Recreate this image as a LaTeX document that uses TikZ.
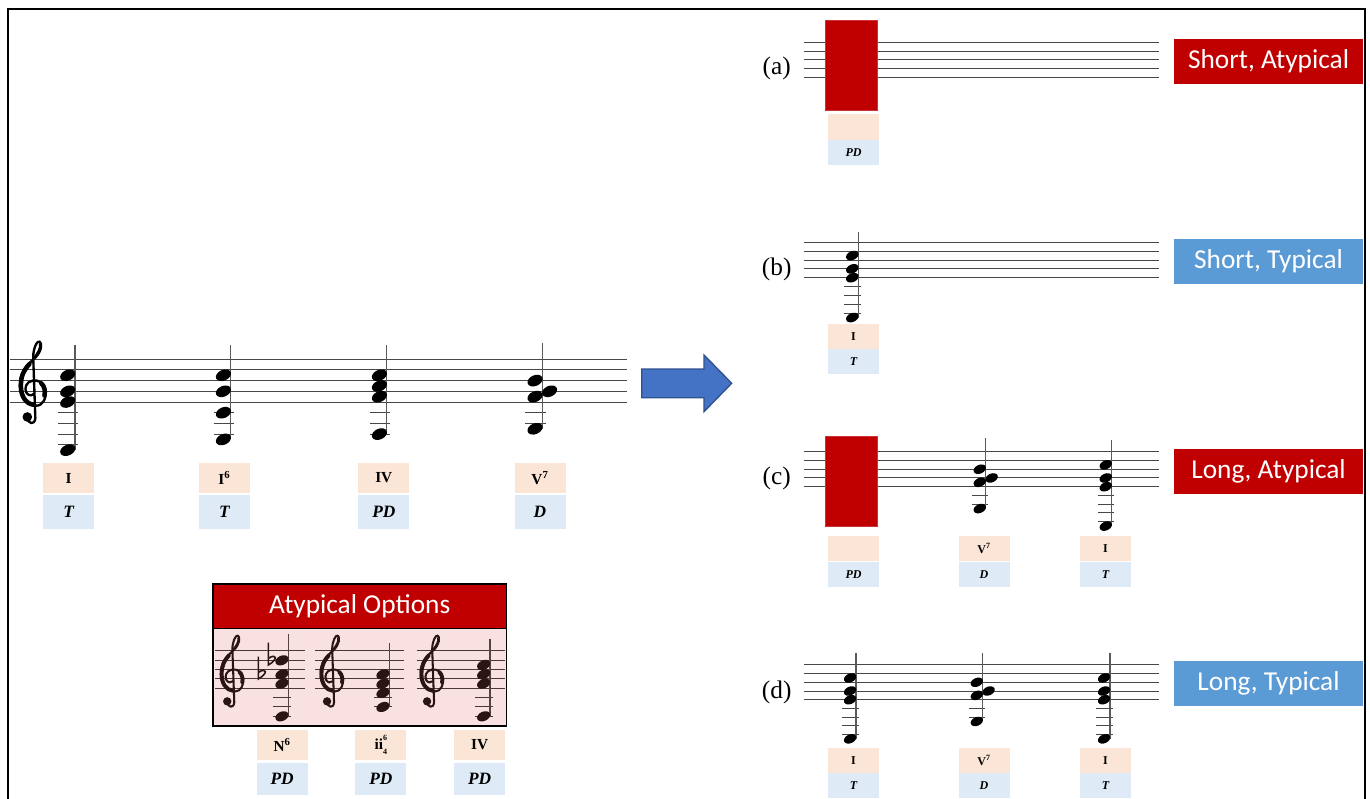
\documentclass[tikz,border=0pt]{standalone}
\usepackage{fontspec}
\setmainfont{Liberation Serif}
\newfontfamily\calfont{Carlito}

\definecolor{peach}{HTML}{FBE5D6}
\definecolor{paleblue}{HTML}{DEEBF7}
\definecolor{darkred}{HTML}{C00000}
\definecolor{tagblue}{HTML}{5B9BD5}
\definecolor{arrowblue}{HTML}{4472C4}
\definecolor{arrowedge}{HTML}{2F528F}
\definecolor{pinkpanel}{HTML}{FAE1E1}
\definecolor{inkbrown}{HTML}{2A1414}

% five staff lines: x1, x2, y of bottom line, line spacing
\newcommand\staff[4]{%
  \foreach \k in {0,...,4} \draw[staffline] (#1,{#3-\k*#4}) -- (#2,{#3-\k*#4});}

% chord: stem x, bottom-line y, spacing, stem top y, notes p/side, ledger positions, lowest p
\newcommand\chord[7]{%
  \foreach \lp in {#6} \draw[ledger] ({#1-1.6*#3},{#2-\lp*#3/2}) -- ({#1+0.3*#3},{#2-\lp*#3/2});
  \draw[stemline] (#1,#4) -- (#1,{#2-(#7)*#3/2});
  \foreach \p/\o in {#5} \fill[notehead] ({#1+(2*\o-1)*0.68*#3},{#2-\p*#3/2})
      ellipse [x radius={0.74*#3*0.75pt}, y radius={0.5*#3*0.75pt}, rotate=24];}

% treble clef: centre x, bottom-line y, spacing, colour
\newcommand\gclef[4]{%
  \pgfmathsetmacro\clefu{#3*0.75}%
  \pgfmathsetmacro\clefw{0.22*#3*0.75}%
  \pgfmathsetmacro\clefb{0.42*#3*0.75}%
  \begin{scope}[shift={(#1,#2)}, x=\clefu pt, y=\clefu pt]
    \fill[#4] (-0.4,-1.4) circle (0.45);
    \draw[#4, line width=\clefw pt, line cap=round, line join=round]
      (-0.4,-1.4) .. controls (-0.35,-2.1) and (0.3,-2.2) .. (0.35,-1.5)
      -- (0.15,4.2) .. controls (0.15,5.0) and (0.5,5.75) .. (0.75,5.65)
      .. controls (1.0,5.5) and (0.95,4.7) .. (0.3,4.1)
      .. controls (-0.5,3.4) and (-1.1,2.8) .. (-1.1,1.5)
      .. controls (-1.1,0.3) and (-0.3,-0.35) .. (0.4,-0.35)
      .. controls (1.1,-0.35) and (1.4,0.4) .. (1.3,1.1)
      .. controls (1.2,1.8) and (0.6,2.1) .. (0.1,2.0)
      .. controls (-0.5,1.9) and (-0.7,1.3) .. (-0.5,0.9)
      .. controls (-0.35,0.6) and (0,0.55) .. (0.2,0.75);
    % heavier strokes on the bowl and the upper diagonal
    \draw[#4, line width=\clefb pt, line cap=round]
      (-0.2,3.55) .. controls (-0.7,3.0) and (-1.0,2.5) .. (-1.0,1.5)
      .. controls (-1.0,0.5) and (-0.5,-0.2) .. (0.2,-0.25);
    \draw[#4, line width=\clefb pt, line cap=round]
      (1.2,0.6) .. controls (1.3,1.0) and (1.2,1.5) .. (0.9,1.75);
    \draw[#4, line width=\clefw pt, line cap=round]
      (0.3,4.2) .. controls (0.6,4.6) and (0.85,5.0) .. (0.8,5.4);
  \end{scope}}

% flat sign: x, y of the note it alters, spacing
\newcommand\flatsign[3]{%
  \draw[flatline] (#1,{#2-1.9*#3}) -- (#1,{#2+0.5*#3})
    .. controls ({#1+1.1*#3},{#2-0.1*#3}) and ({#1+0.9*#3},{#2-0.8*#3}) .. (#1,{#2-0.2*#3});}

\begin{document}
\begin{tikzpicture}[x=0.75pt,y=-0.75pt,
  staffline/.style={draw=black!72, line width=0.75pt},
  ledger/.style={draw=black!72, line width=0.75pt},
  stemline/.style={draw=black!65, line width=0.9pt},
  notehead/.style={fill=black},
  flatline/.style={draw=inkbrown, line width=1.2pt},
  rbox/.style={fill=peach, minimum width=38.25pt, inner sep=0pt,
    font=\bfseries\fontsize{11.5}{12}\selectfont},
  fbox/.style={fill=paleblue, minimum width=38.25pt, inner sep=0pt,
    font=\bfseries\itshape\fontsize{13}{14}\selectfont},
  rsmall/.style={fill=peach, minimum width=38.25pt, minimum height=19pt, inner sep=0pt,
    font=\bfseries\fontsize{9}{10}\selectfont},
  fsmall/.style={fill=paleblue, minimum width=38.25pt, minimum height=18.75pt, inner sep=0pt,
    font=\bfseries\itshape\fontsize{9}{10}\selectfont},
  tag/.style={minimum width=141.3pt, minimum height=33.75pt, inner sep=0pt, text=white,
    font=\calfont\fontsize{20.5}{22}\selectfont},
  rowlabel/.style={inner sep=0pt, font=\fontsize{19}{20}\selectfont},
  redblock/.style={fill=darkred, draw=darkred!80!white, line width=0.5pt},
  bigarrow/.style={fill=arrowblue, draw=arrowedge, line width=1pt, line join=miter}]

\useasboundingbox (0,0) rectangle (1370,799);

% outer frame, open at the bottom
\draw[line width=1.5pt] (8,799) -- (8,9) -- (1365,9) -- (1365,799);

% ---------- main staff ----------
\staff{10}{627}{402}{10.7}
\gclef{31.6}{402}{10.7}{black}
\chord{75}{402}{10.7}{345}{5/0,2/0,0/0,-9/0}{-2,-4,-6,-8}{-9}
\chord{230.7}{402}{10.7}{345}{5/0,2/0,-2/0,-7/0}{-2,-4,-6}{-7}
\chord{386.7}{402}{10.7}{345}{5/0,3/0,1/0,-6/0}{-2,-4,-6}{-6}
\chord{542.3}{402}{10.7}{343}{4/0,2/1,1/0,-5/0}{-2,-4}{-5}

\node[rbox, minimum height=22pt] (r1) at (68.7,478) {I};
\node[fbox, minimum height=25.5pt] (f1) at (68.7,512.3) {T};
\node[rbox, minimum height=22pt] (r2) at (224.3,478) {I\textsuperscript{6}};
\node[fbox, minimum height=25.5pt] (f2) at (224.3,512.3) {T};
\node[rbox, minimum height=22pt] (r3) at (383.8,478) {IV};
\node[fbox, minimum height=25.5pt] (f3) at (383.8,512.3) {PD};
\node[rbox, minimum height=22pt] (r4) at (540,478) {V\textsuperscript{7}};
\node[fbox, minimum height=25.5pt] (f4) at (540,512.3) {D};

% ---------- arrow ----------
\draw[bigarrow] (641.7,369) -- (704,369) -- (704,355) -- (731.7,383.3)
  -- (704,411.7) -- (704,397.7) -- (641.7,397.7) -- cycle;

% ---------- atypical options panel ----------
\node[fill=pinkpanel, minimum width=219.5pt, minimum height=73pt, inner sep=0pt] (optbody) at (359.7,677) {};
\begin{scope}[staffline/.style={draw=inkbrown!85, line width=0.75pt},
  ledger/.style={draw=inkbrown!85, line width=0.75pt},
  stemline/.style={draw=inkbrown!80, line width=0.9pt},
  notehead/.style={fill=inkbrown}]
  \staff{215}{305}{688.3}{9.33}
  \staff{315}{404}{688.3}{9.33}
  \staff{416.7}{505}{688.3}{9.33}
  \gclef{231}{688.3}{9.33}{inkbrown}
  \gclef{330.8}{688.3}{9.33}{inkbrown}
  \gclef{430.8}{688.3}{9.33}{inkbrown}
  \flatsign{258.3}{674.3}{9.33}
  \flatsign{268.3}{660.3}{9.33}
  \chord{288.3}{688.3}{9.33}{634.3}{6/0,3/0,1/0,-6/0}{-2,-4,-6}{-6}
  \chord{389.3}{688.3}{9.33}{643.3}{3/0,1/0,-1/0,-4/0}{-2,-4}{-4}
  \chord{490}{688.3}{9.33}{639}{5/0,3/0,1/0,-6/0}{-2,-4,-6}{-6}
\end{scope}
\node[fill=darkred, minimum width=219.5pt, minimum height=33.2pt, inner sep=0pt, text=white,
  font=\calfont\fontsize{20.5}{22}\selectfont] (opttitle) at (359.7,606.2) {Atypical Options};
\draw[line width=1.2pt] (opttitle.north west) rectangle (optbody.south east);
\draw[line width=1.2pt] (opttitle.south west) -- (opttitle.south east);

\node[rbox, minimum height=22.5pt] (nr1) at (282.2,745) {N\textsuperscript{6}};
\node[fbox, minimum height=24pt] (nf1) at (282.2,779) {PD};
\node[rbox, minimum height=22.5pt] (nr2) at (380.9,745)
  {ii\makebox[0pt][l]{\raisebox{1.3ex}{\fontsize{6}{6}\selectfont 6}}\raisebox{-0.7ex}{\fontsize{6}{6}\selectfont 4}};
\node[fbox, minimum height=24pt] (nf2) at (380.9,779) {PD};
\node[rbox, minimum height=22.5pt] (nr3) at (479.7,745) {IV};
\node[fbox, minimum height=24pt] (nf3) at (479.7,779) {PD};

% ---------- (a) ----------
\node[rowlabel] (la) at (776.7,68) {(a)};
\staff{804}{1159}{77.3}{8.75}
\fill[redblock] (825.3,20) rectangle (877.3,110.7);
\node[rsmall] (ar1) at (853.5,127) {};
\node[fsmall] (af1) at (853.5,152.5) {PD};
\node[tag, fill=darkred] (ta) at (1268.5,61.7) {Short, Atypical};

% ---------- (b) ----------
\node[rowlabel] (lb) at (776.7,269) {(b)};
\staff{804}{1159}{277.7}{8.85}
\chord{858.3}{277.7}{8.85}{231.7}{5/0,2/0,0/0,-9/0}{-2,-4,-6,-8}{-9}
\node[rsmall] (br1) at (853.5,336.8) {I};
\node[fsmall] (bf1) at (853.5,361.7) {T};
\node[tag, fill=tagblue] (tb) at (1268.5,261.2) {Short, Typical};

% ---------- (c) ----------
\node[rowlabel] (lc) at (776.7,478) {(c)};
\staff{804}{1159}{486.7}{8.75}
\fill[redblock] (825.3,436) rectangle (877.3,526);
\chord{985.7}{486.7}{8.75}{438.3}{4/0,2/1,1/0,-5/0}{-2,-4}{-5}
\chord{1111.7}{486.7}{8.75}{440}{5/0,2/0,0/0,-9/0}{-2,-4,-6,-8}{-9}
\node[rsmall] (cr1) at (853.5,548.8) {};
\node[fsmall] (cf1) at (853.5,574.2) {PD};
\node[rsmall] (cr2) at (984,548.8) {V\textsuperscript{7}};
\node[fsmall] (cf2) at (984,574.2) {D};
\node[rsmall] (cr3) at (1105.5,548.8) {I};
\node[fsmall] (cf3) at (1105.5,574.2) {T};
\node[tag, fill=darkred] (tc) at (1268.5,471) {Long, Atypical};

% ---------- (d) ----------
\node[rowlabel] (ld) at (776.7,692.5) {(d)};
\staff{804}{1159}{699.7}{8.7}
\chord{856}{699.7}{8.7}{653}{5/0,2/0,0/0,-9/0}{-2,-4,-6,-8}{-9}
\chord{982.7}{699.7}{8.7}{653}{4/0,2/1,1/0,-5/0}{-2,-4}{-5}
\chord{1110}{699.7}{8.7}{653}{5/0,2/0,0/0,-9/0}{-2,-4,-6,-8}{-9}
\node[rsmall] (dr1) at (853.5,760.3) {I};
\node[fsmall] (df1) at (853.5,785.3) {T};
\node[rsmall] (dr2) at (984,760.3) {V\textsuperscript{7}};
\node[fsmall] (df2) at (984,785.3) {D};
\node[rsmall] (dr3) at (1105.5,760.3) {I};
\node[fsmall] (df3) at (1105.5,785.3) {T};
\node[tag, fill=tagblue] (td) at (1268.5,683) {Long, Typical};

\end{tikzpicture}
\end{document}
